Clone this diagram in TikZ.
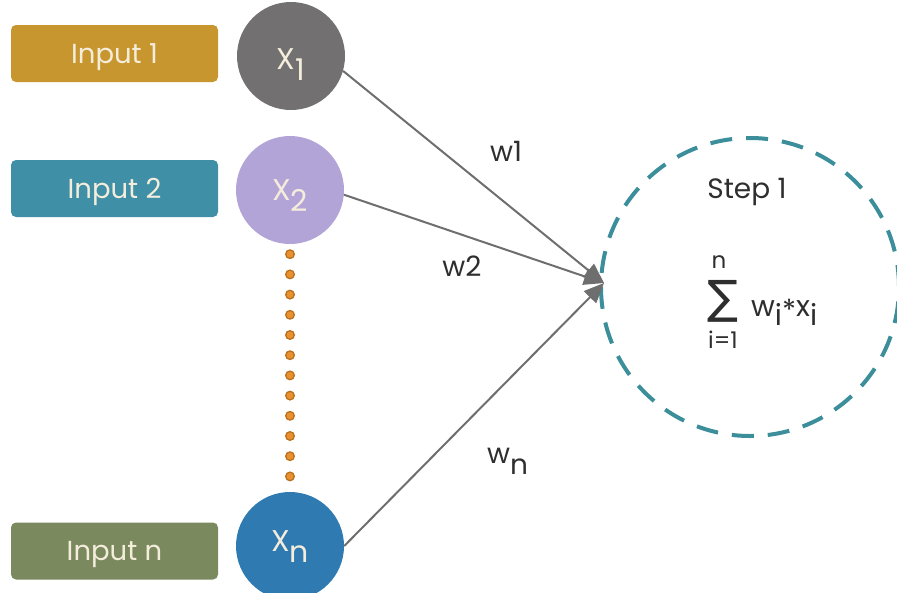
\documentclass[tikz,border=0pt]{standalone}
\usepackage{fontspec}
\setmainfont{Poppins}
\newfontfamily\symfont{DejaVu Sans}
\usetikzlibrary{arrows.meta}
\definecolor{cone}{HTML}{C8962F}
\definecolor{ctwo}{HTML}{3F8FA7}
\definecolor{cn}{HTML}{7A8A5E}
\definecolor{xone}{HTML}{727070}
\definecolor{xtwo}{HTML}{B3A4D8}
\definecolor{xn}{HTML}{2F7BB1}
\definecolor{boxtext}{HTML}{F4EDDC}
\definecolor{arrowgray}{HTML}{6E6E6E}
\definecolor{ringteal}{HTML}{3B8E9A}
\definecolor{dotorange}{HTML}{E8912E}
\definecolor{dotedge}{HTML}{B8701E}
\definecolor{lbltext}{HTML}{2E2E2E}
\begin{document}
\begin{tikzpicture}[x=1pt,y=-1pt]
\tikzset{
 inbox/.style={rounded corners=5pt, minimum width=207pt, minimum height=57pt, inner sep=0pt, text height=19pt, text depth=0pt, text=boxtext, font=\fontsize{27.5}{30}\selectfont},
 xnode/.style={circle, minimum size=108pt, inner sep=0pt, text height=21pt, text depth=0pt, text=boxtext, font=\fontsize{30}{32}\selectfont},
 conn/.style={draw=arrowgray, line width=2pt, -{Triangle[length=20pt,width=17pt]}},
 lbl/.style={text=lbltext, font=\fontsize{28}{30}\selectfont, inner sep=0pt},
 sumlbl/.style={text=lbltext, font=\fontsize{23}{25}\selectfont, inner sep=0pt},
 prodlbl/.style={text=lbltext, font=\fontsize{29}{30}\selectfont, inner sep=0pt},
}
\useasboundingbox (0,0) rectangle (897,592);
\node[inbox, fill=cone] (in1) at (114.5,53.5) {Input 1};
\node[inbox, fill=ctwo] (in2) at (114.5,188.5) {Input 2};
\node[inbox, fill=cn] (inn) at (114.5,551) {Input n};
\node[xnode, fill=xone] (x1) at (291,56) {\raisebox{-3pt}{X\raisebox{-11pt}{1}}};
\node[xnode, fill=xtwo] (x2) at (290,190) {X\raisebox{-11pt}{2}};
\node[xnode, fill=xn] (xnn) at (290,546) {\raisebox{5pt}{X\raisebox{-11pt}{n}}};
\node[circle, draw=ringteal, line width=4pt, dash pattern=on 22pt off 14pt, minimum size=298pt, inner sep=0pt] (ring) at (750,287) {};
\coordinate (tip) at (604,283);
\draw[conn] (x1.-16) -- (tip);
\draw[conn] (x2.-5) -- (tip);
\draw[conn] (xnn.east) -- (tip);
\draw[draw=dotedge, line width=10pt, line cap=round, dash pattern=on 0pt off 20.2pt, shorten <=10pt, shorten >=15pt] (x2.south) -- (xnn.north);
\draw[draw=dotorange, line width=7pt, line cap=round, dash pattern=on 0pt off 20.2pt, shorten <=10pt, shorten >=15pt] (x2.south) -- (xnn.north);
\node[lbl] (w1) at (506,151) {w1};
\node[lbl] (w2) at (462,266) {w2};
\node[lbl, anchor=west] (wn) at (487,461) {w\raisebox{-11pt}{n}};
\node[lbl] (step) at (747,192) {Step 1};
\node[text=lbltext, inner sep=0pt, font=\symfont\fontsize{46}{46}\selectfont] (sig) at (723,301) {∑};
\node[sumlbl] (up) at (719,262) {n};
\node[sumlbl] (low) at (723,340) {i=1};
\node[prodlbl, anchor=west] (wx) at (751,312) {w\raisebox{-9pt}{i}\raisebox{-4pt}{*}x\raisebox{-9pt}{i}};
\end{tikzpicture}
\end{document}
